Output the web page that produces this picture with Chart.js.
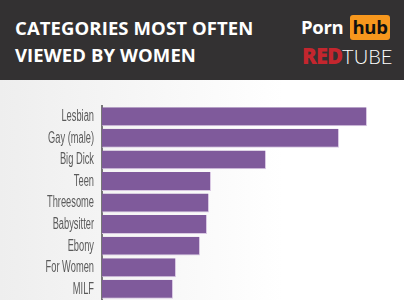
<!DOCTYPE html>
<html>
<head>
<meta charset="utf-8">
<script src="https://cdn.jsdelivr.net/npm/chart.js@4"></script>
<style>
  body { margin: 0; width: 404px; height: 300px; overflow: hidden; font-family: "Open Sans", sans-serif; }
  .header { position: absolute; left: 0; top: 0; width: 404px; height: 80px; background: #333132; }
  .title { position: absolute; left: 15px; top: 14px; color: #fff; font-weight: 700; font-size: 18.5px; line-height: 27px; letter-spacing: 0.1px; white-space: nowrap; }
  .porn { position: absolute; left: 301px; top: 14px; font-weight: 700; font-size: 18.5px; line-height: 26px; color: #fff; letter-spacing: -0.3px; }
  .hub { position: absolute; left: 350px; top: 15px; width: 40px; height: 25px; background: #f7971d; color: #111; border-radius: 3px; text-align: center; font-weight: 700; font-size: 18.5px; line-height: 24px; letter-spacing: -0.3px; }
  .rt { position: absolute; left: 302px; top: 43px; white-space: nowrap; font-size: 21px; line-height: 24px; color: #fff; }
  .rt b { color: #c4262e; font-weight: 800; font-size: 22px; letter-spacing: -1px; }
  .rt span { font-family: Lato, sans-serif; font-weight: 300; font-size: 20px; }
  .chartbox { position: absolute; left: 0; top: 80px; width: 404px; height: 220px; background: linear-gradient(to right, #eeeeee, #ffffff 70%); }
</style>
</head>
<body>
<div class="header">
  <div class="title">CATEGORIES MOST OFTEN<br>VIEWED BY WOMEN</div>
  <div class="porn">Porn</div>
  <div class="hub">hub</div>
  <div class="rt"><b>RED</b><span>TUBE</span></div>
</div>
<div class="chartbox"><canvas id="chart" width="404" height="220"></canvas></div>
<script>
const categories = ['Lesbian', 'Gay (male)', 'Big Dick', 'Teen', 'Threesome', 'Babysitter', 'Ebony', 'For Women', 'MILF'];
const views = [265, 237, 164, 109, 107, 105, 98, 74, 71];

// condensed tick labels: no narrow font installed, so squeeze horizontally
const narrowLabels = {
    id: 'narrowLabels',
    afterDraw(chart) {
        const scale = chart.scales.y;
        const c = chart.ctx;
        c.save();
        c.font = '16px "Liberation Sans", sans-serif';
        c.fillStyle = '#5a5a5a';
        c.textAlign = 'right';
        c.textBaseline = 'middle';
        const squeeze = 46 / c.measureText('Gay (male)').width;
        const right = scale.right - 8;
        chart.data.labels.forEach((label, i) => {
            const y = scale.getPixelForTick(i);
            c.save();
            c.translate(right, y);
            c.scale(squeeze, 1);
            c.fillText(label, 0, 0);
            c.restore();
        });
        c.restore();
    }
};

const ctx = document.getElementById('chart').getContext('2d');
new Chart(ctx, {
    type: 'bar',
    data: {
        labels: categories,
        datasets: [{
            data: views,
            backgroundColor: '#7f5a9b',
            borderColor: '#d9c8e3',
            borderWidth: { right: 1, bottom: 1 },
            borderSkipped: false,
            barPercentage: 0.88,
            categoryPercentage: 1
        }]
    },
    options: {
        indexAxis: 'y',
        responsive: false,
        animation: false,
        layout: { padding: { top: 26, right: 2, bottom: 0, left: 0 } },
        plugins: { legend: { display: false }, tooltip: { enabled: false } },
        scales: {
            x: { display: false, min: 0, max: 300 },
            y: {
                afterFit: (scale) => { scale.width = 102; },
                grid: { display: false, drawTicks: false },
                border: { display: true, color: '#777', width: 2 },
                ticks: { display: false }
            }
        }
    },
    plugins: [narrowLabels]
});
</script>
</body>
</html>
